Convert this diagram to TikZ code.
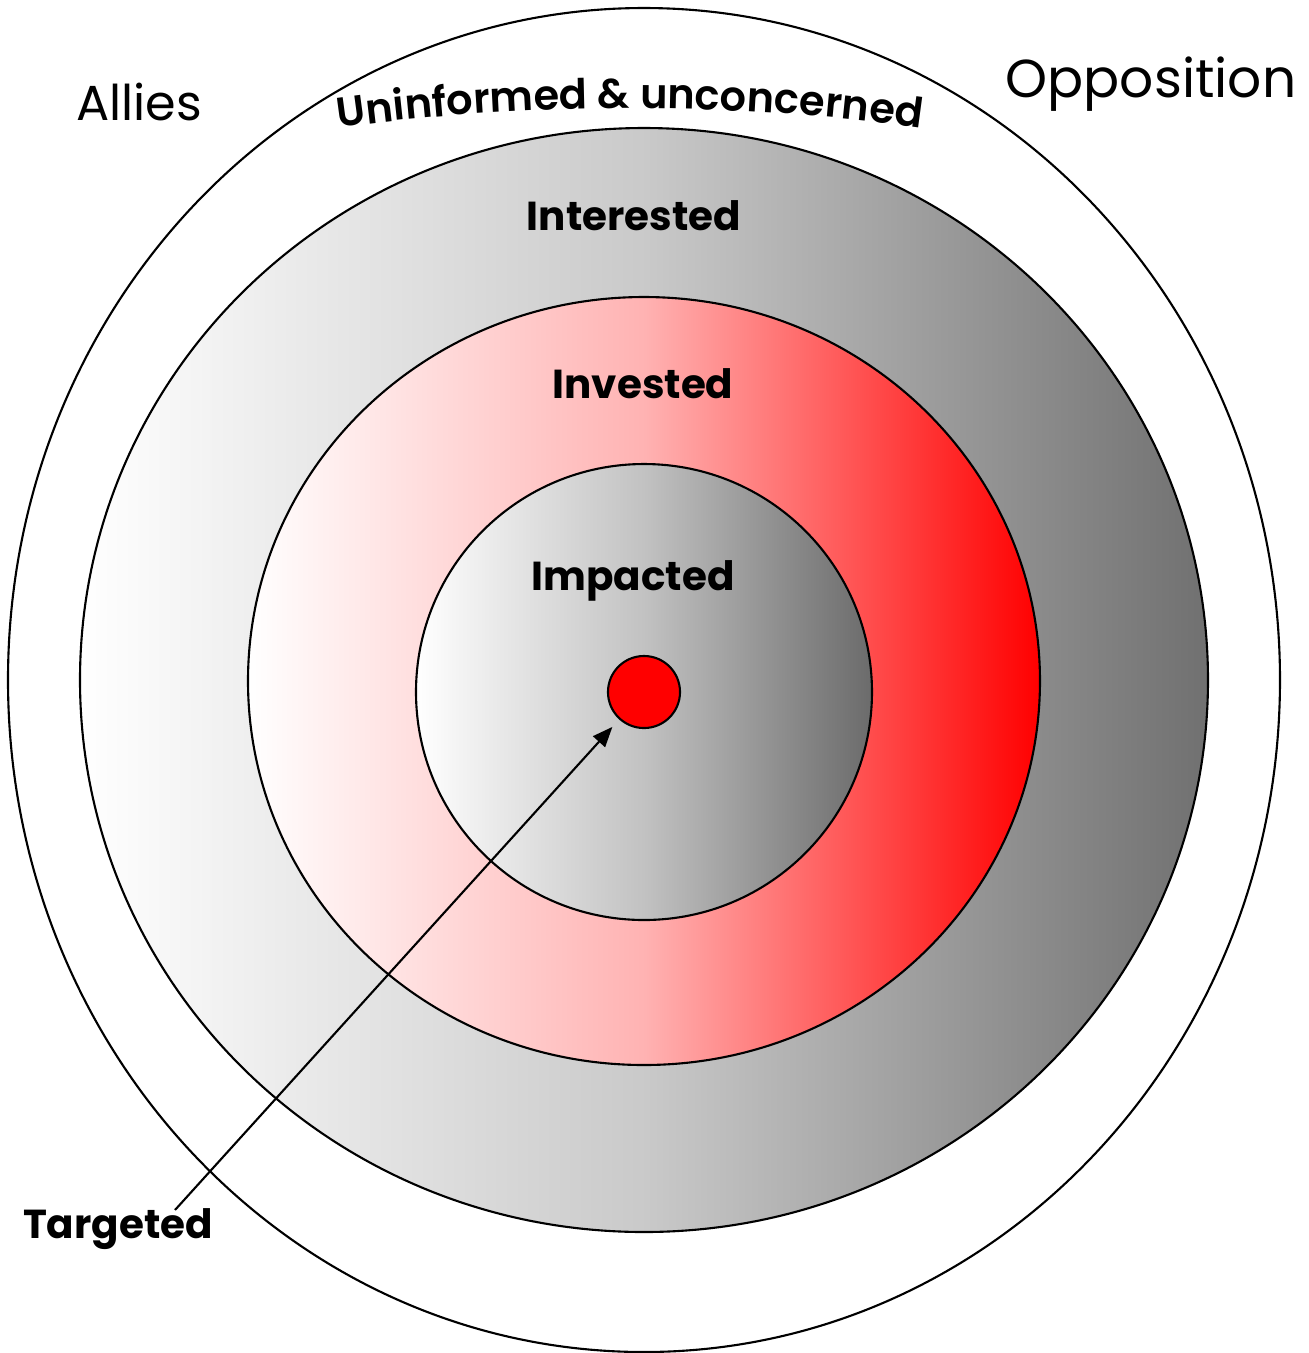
\documentclass[tikz,border=0pt]{standalone}
\usepackage{fontspec}
\setmainfont{Poppins}
\newfontfamily\arcfamily{Poppins SemiBold}
\usetikzlibrary{decorations.text,arrows.meta}
\definecolor{ringgray}{gray}{0.44}
\definecolor{ringmid}{gray}{0.79}
\definecolor{coregray}{gray}{0.42}
\definecolor{coremid}{gray}{0.76}
\newcommand{\ringfont}{\arcfamily\fontsize{11.8}{14}\selectfont}
\newcommand{\bandfont}{\bfseries\fontsize{11.5}{13}\selectfont}

\begin{document}
\begin{tikzpicture}[x=0.01cm, y=0.01cm, >={Triangle[length=0.2cm, width=0.16cm]}, line width=0.6pt,
    sidetext/.style={anchor=base, inner sep=0pt, font=\fontsize{14}{16}\selectfont},
    bandtext/.style={anchor=base, inner sep=0pt, font=\bandfont}]
  \useasboundingbox (0,0) rectangle (1309,-1353);
  % rings, outermost first, each shaded from the allies side to the opposition side
  \draw[fill=white] (644,-680) ellipse [x radius=636, y radius=672];
  \draw[left color=white, right color=ringgray, middle color=ringmid] (644,-680) ellipse [x radius=564, y radius=552];
  \draw[left color=white, right color=red, middle color=red!30] (644,-681) ellipse [x radius=396, y radius=384];
  \draw[left color=white, right color=coregray, middle color=coremid] (644,-692) circle [radius=228];
  \node[circle, draw, fill=red, minimum size=0.72cm, inner sep=0pt] (bull) at (644,-692) {};
  % labels
  \node[sidetext] (allies) at (139,-120) {Allies};
  \node[sidetext, font=\fontsize{15.2}{17}\selectfont] (opp) at (1151,-97) {Opposition};
  \path[decorate, decoration={text along path, text align=center,
      text={|\ringfont|Uninformed {\&} unconcerned}}]
    (300,-134) .. controls (500,-100) and (760,-100) .. (960,-134);
  \node[bandtext] (interested) at (634,-230) {Interested};
  \node[bandtext] (invested) at (643,-398) {Invested};
  \node[bandtext] (impacted) at (633,-590) {Impacted};
  \node[bandtext] (targeted) at (118,-1238) {Targeted};
  \coordinate (tail) at (175,-1210);
  \draw[->, shorten >=0.1cm] (tail) -- (bull);
\end{tikzpicture}
\end{document}
